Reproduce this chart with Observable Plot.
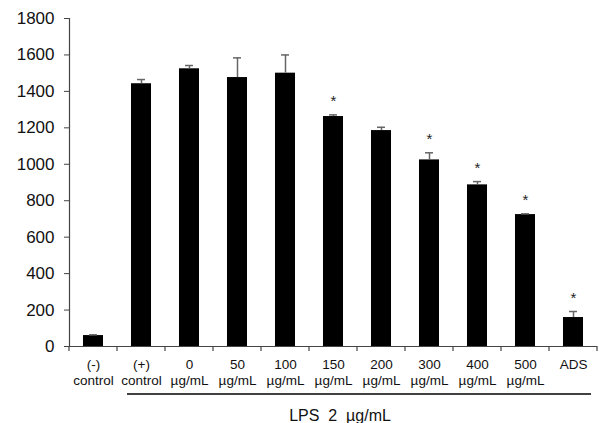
<!DOCTYPE html>
<html>
<head>
<meta charset="utf-8">
<script src="https://cdn.jsdelivr.net/npm/d3@7"></script>
<script src="https://cdn.jsdelivr.net/npm/@observablehq/plot@0.6"></script>
<style>
  html, body { margin: 0; padding: 0; background: #fff; }
  svg { display: block; }
</style>
</head>
<body>
<div id="chart"></div>
<script>
const categories = ["(-)\ncontrol", "(+)\ncontrol", "0\nµg/mL", "50\nµg/mL", "100\nµg/mL", "150\nµg/mL", "200\nµg/mL", "300\nµg/mL", "400\nµg/mL", "500\nµg/mL", "ADS"];
const means = [60, 1442, 1524, 1476, 1500, 1262, 1185, 1024, 887, 724, 159];
const errors = [4, 23, 18, 108, 100, 9, 18, 39, 18, 4, 33];
const significant = [false, false, false, false, false, true, false, true, true, true, true];
const yTicks = [0, 200, 400, 600, 800, 1000, 1200, 1400, 1600, 1800];
const groupLabel = "LPS  2  µg/mL";
const groupStart = "(+)\ncontrol";
const groupEnd = "ADS";

const data = categories.map((c, i) => ({
  cat: c, mean: means[i], err: errors[i], top: means[i] + errors[i], sig: significant[i]
}));

const svg = Plot.plot({
  width: 605,
  height: 423,
  marginLeft: 69,
  marginRight: 8,
  marginTop: 18,
  marginBottom: 77,
  style: { fontFamily: "'Liberation Sans', Arial, sans-serif", background: "#fff" },
  x: { domain: categories, paddingInner: 0.583, paddingOuter: 0.2915, round: false, label: null },
  y: { domain: [0, 1800], label: null },
  marks: [
    Plot.barY(data, { x: "cat", y: "mean", fill: "#000" }),
    Plot.ruleX(data, { x: "cat", y1: "mean", y2: "top", stroke: "#666", strokeWidth: 1.5 }),
    Plot.tickY(data, { x: "cat", y: "top", stroke: "#666", strokeWidth: 1.5, insetLeft: 6, insetRight: 6 }),
    Plot.text(data.filter(d => d.sig), { x: "cat", y: "top", text: () => "*", fontSize: 15, fill: "#222", lineAnchor: "bottom", dy: -9 }),
    Plot.ruleY([0], { stroke: "#444", strokeWidth: 1.2 }),
    Plot.frame({ anchor: "left", stroke: "#444", strokeWidth: 1.2 }),
    Plot.axisY({ ticks: yTicks, tickFormat: d => String(d), tickSize: 5, tickPadding: 10, stroke: "#444", fontSize: 17, fill: "#111", label: null }),
    Plot.axisX({ tickSize: 0, tickPadding: 11, fontSize: 13.5, lineHeight: 1.18, fill: "#111", label: null })
  ]
});

document.getElementById("chart").appendChild(svg);

// category boundary ticks, underline and group caption, positioned from the x scale
const xs = svg.scale("x");
const ys = svg.scale("y");
const step = xs.step ?? (xs.range[1] - xs.range[0]) / categories.length;
const y0 = ys.apply(0);
const sel = d3.select(svg);
const bounds = d3.range(categories.length + 1).map(i =>
  i < categories.length ? xs.apply(categories[i]) + xs.bandwidth / 2 - step / 2 : xs.apply(categories[i - 1]) + xs.bandwidth / 2 + step / 2);
sel.append("g").selectAll("line").data(bounds).join("line")
  .attr("x1", d => d).attr("x2", d => d)
  .attr("y1", y0).attr("y2", y0 + 5)
  .attr("stroke", "#444").attr("stroke-width", 1.2);

const gx1 = xs.apply(groupStart) + xs.bandwidth / 2 - step / 2 + 10;
const gx2 = xs.apply(groupEnd) + xs.bandwidth / 2 + step / 2 - 6;
sel.append("line")
  .attr("x1", gx1).attr("x2", gx2)
  .attr("y1", y0 + 48).attr("y2", y0 + 48)
  .attr("stroke", "#000").attr("stroke-width", 1.5);
sel.append("text")
  .attr("x", 340).attr("y", y0 + 75)
  .attr("text-anchor", "middle")
  .attr("font-size", 16)
  .attr("fill", "#111")
  .style("white-space", "pre")
  .attr("xml:space", "preserve")
  .text(groupLabel);
</script>
</body>
</html>
